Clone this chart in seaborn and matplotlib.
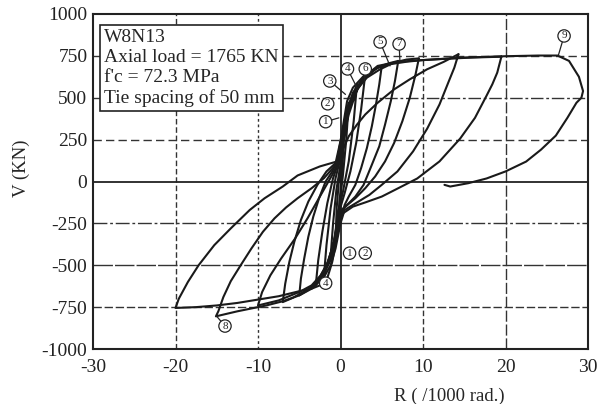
import matplotlib
matplotlib.use("Agg")
import matplotlib.pyplot as plt
import seaborn as sns
import pandas as pd

# Load history of specimen W8N13: drift ratio R (1/1000 rad) and shear V (kN),
# one list pair per cycle, each running from one positive peak to the next.
r_c0 = [0, 0.15, 0.3, 0.5]
v_c0 = [0, 150, 280, 370]

r_c1 = [0.5, 0.35, 0.1, -0.2, -0.6, -0.45, -0.2, 0.2, 0.6, 1.0]
v_c1 = [370, 180, 0, -170, -330, -150, 0, 200, 380, 470]

r_c2 = [1.0, 0.7, 0.3, -0.1, -0.6, -1.2, -0.9, -0.5, 0.0, 0.6, 1.2, 2.0]
v_c2 = [470, 250, 40, -130, -320, -450, -250, -50, 100, 320, 470, 580]

r_c3 = [2.0, 1.6, 1.0, 0.3, -0.2, -0.8, -1.5, -2.0, -1.7, -1.2, -0.6, -0.1, 0.4, 1.0, 1.8, 2.4, 3.0]
v_c3 = [580, 360, 120, -60, -170, -360, -480, -560, -380, -160, 20, 120, 270, 400, 520, 590, 640]

r_c4 = [3.0, 2.5, 1.9, 1.2, 0.5, -0.1, -0.8, -1.5, -2.2, -3.0, -2.7, -2.2, -1.6, -0.9, -0.2,
        0.5, 1.0, 1.8, 3.0, 4.0, 5.0]
v_c4 = [640, 430, 230, 60, -70, -170, -360, -480, -570, -620, -470, -300, -130, 20, 120,
        320, 430, 530, 620, 665, 690]

r_c5 = [5.0, 4.7, 4.3, 3.8, 3.2, 2.5, 1.8, 1.0, 0.5, -0.3, -0.7, -1.2, -2.0, -2.8, -4.0, -5.0,
        -4.8, -4.4, -3.9, -3.3, -2.6, -1.8, -1.0, -0.5, 0.3, 1.0, 1.8, 3.0, 4.5, 5.8, 7.0]
v_c5 = [690, 580, 460, 330, 200, 80, -20, -90, -140, -280, -380, -470, -550, -600, -650, -680,
        -580, -460, -330, -210, -100, 0, 60, 110, 300, 450, 540, 620, 680, 705, 720]

r_c6 = [7.0, 6.6, 6.1, 5.4, 4.7, 3.8, 2.8, 1.8, 1.0, -0.2, -0.6, -1.0, -1.7, -2.5, -3.5, -4.5,
        -5.8, -7.0, -6.7, -6.2, -5.6, -4.8, -3.9, -2.8, -1.7, -0.6, 0.4, 1.2, 2.0, 3.2, 4.8,
        6.5, 8.0, 9.5]
v_c6 = [720, 600, 480, 340, 210, 100, -20, -90, -130, -190, -320, -400, -500, -570, -630, -660,
        -695, -720, -610, -480, -360, -230, -120, -20, 60, 110, 330, 470, 550, 620, 670,
        710, 728, 735]

r_c7 = [9.5, 9.1, 8.4, 7.5, 6.5, 5.4, 4.2, 3.0, 1.8, 0.1, -0.4, -0.8, -1.5, -2.4, -3.5, -5.0,
        -7.5, -10.0, -9.5, -8.5, -7.2, -5.5, -4.0, -2.5, -1.0, -0.3, 0.2, 1.0, 2.0, 3.0, 4.5,
        6.5, 8.4, 10.5, 12.5, 14.3]
v_c7 = [735, 640, 500, 360, 230, 120, 30, -40, -100, -170, -300, -380, -480, -560, -620, -660,
        -710, -740, -660, -560, -460, -340, -220, -90, 40, 110, 180, 270, 340, 400, 470,
        550, 610, 670, 714, 760]

r_c8 = [14.3, 13.8, 13.1, 12.0, 10.5, 8.8, 6.9, 5.0, 3.5, 1.5, 0.5, 0.0, -0.6, -1.2, -2.0,
        -3.5, -5.0, -7.0, -9.0, -12.5, -15.1, -14.8, -14.2, -13.3, -12.1, -10.8, -9.4, -8.0,
        -6.6, -5.2, -3.5, -2.0, -0.4, 0.3, 0.8, 1.5, 2.5, 3.5, 4.5, 6.5, 8.4, 12.5, 16.0, 19.5]
v_c8 = [760, 680, 595, 460, 315, 180, 60, -20, -80, -140, -170, -250, -400, -500, -570,
        -640, -680, -715, -740, -775, -805, -774, -690, -595, -500, -400, -300, -220,
        -155, -100, -40, 20, 110, 300, 430, 530, 600, 650, 690, 710, 720, 732, 740, 745]

r_c9 = [19.5, 19.0, 18.4, 17.7, 16.3, 14.5, 12.0, 9.3, 7.0, 5.0, 3.0, 1.5, 0.0, -0.5, -1.0,
        -1.6, -2.5, -3.5, -5.0, -7.5, -10.0, -12.5, -15.0, -17.5, -20.0, -19.6, -18.5, -17.2,
        -15.3, -13.3, -11.0, -9.2, -7.0, -5.2, -2.5, -0.4, 0.3, 0.8, 1.5, 3.0, 4.5, 6.0, 8.0,
        10.0, 15.0, 20.0, 24.0, 26.3, 27.7, 28.9, 29.4, 29.2, 28.6, 27.5, 26.1, 24.3, 22.5,
        20.0, 17.7, 15.5, 13.3, 12.6]
v_c9 = [745, 650, 580, 512, 380, 256, 120, 18, -40, -90, -125, -150, -200, -350, -480,
        -577, -620, -640, -655, -685, -705, -725, -740, -750, -755, -700, -600, -500,
        -380, -280, -170, -100, -30, 36, 90, 120, 330, 480, 560, 640, 680, 700, 715,
        725, 740, 748, 752, 752, 720, 625, 540, 500, 470, 380, 274, 190, 119,
        60, 18, -10, -30, -20]

cycle_r = [r_c0, r_c1, r_c2, r_c3, r_c4, r_c5, r_c6, r_c7, r_c8, r_c9]
cycle_v = [v_c0, v_c1, v_c2, v_c3, v_c4, v_c5, v_c6, v_c7, v_c8, v_c9]

# Cycle number markers: (text, x, y, leader end x, leader end y or None)
marker_text = ["1", "2", "3", "4", "6", "5", "7", "9", "1", "2", "4", "8"]
marker_x = [-1.8, -1.55, -1.3, 0.85, 3.0, 4.8, 7.1, 27.1, 1.1, 3.0, -1.8, -14.0]
marker_y = [357, 464, 600, 672, 672, 833, 821, 869, -428, -428, -607, -863]
leader_x = [-0.2, None, 0.6, 2.0, 2.9, 6.0, 7.2, 26.4, None, None, None, -15.0]
leader_y = [380, None, 520, 560, 600, 690, 722, 752, None, None, None, -805]

legend_lines = ["W8N13", "Axial load = 1765 KN", "f'c = 72.3 MPa", "Tie spacing of 50 mm"]

x_ticks = [-30, -20, -10, 0, 10, 20, 30]
y_ticks = [-1000, -750, -500, -250, 0, 250, 500, 750, 1000]

sns.set_style("white")
plt.rcParams["font.family"] = ["Liberation Serif", "DejaVu Serif"]

frames = []
for i, (rr, vv) in enumerate(zip(cycle_r, cycle_v)):
    frames.append(pd.DataFrame({"R": rr, "V": vv, "cycle": i}))
df = pd.concat(frames, ignore_index=True)

fig = plt.figure(figsize=(6.03, 4.04), dpi=100)
ax = fig.add_axes([93 / 603, 55 / 404, 495 / 603, 335 / 404])

# reference grid with the mixed line styles of the printed chart
hstyles = {750: (0, (6, 3)), 500: (0, (9, 2, 2, 2)), 250: (0, (6, 3)),
           -250: (0, (10, 2, 2, 2)), -500: (0, (14, 1.5)), -750: (0, (6, 2))}
vstyles = {-20: (0, (4, 2)), -10: (0, (2, 2)), 10: (0, (4, 2)), 20: (0, (8, 2))}
for yv, ls in hstyles.items():
    ax.axhline(yv, color="#333333", lw=1.0, linestyle=ls, zorder=1)
for xv, ls in vstyles.items():
    ax.axvline(xv, color="#333333", lw=1.0, linestyle=ls, zorder=1)
ax.axhline(0, color="#222222", lw=1.3, zorder=1)
ax.axvline(0, color="#222222", lw=1.3, zorder=1)

sns.lineplot(data=df, x="R", y="V", units="cycle", estimator=None, sort=False,
             color="#1a1a1a", lw=1.5, legend=False, ax=ax, zorder=3)

for t, mx, my, lx, ly in zip(marker_text, marker_x, marker_y, leader_x, leader_y):
    if lx is not None:
        ax.plot([mx, lx], [my, ly], color="#222222", lw=0.9, zorder=4)
    ax.text(mx, my, t, fontsize=8, ha="center", va="center", zorder=5,
            bbox=dict(boxstyle="circle,pad=0.15", fc="white", ec="#222222", lw=0.9))

ax.text(0.022, 0.955, "\n".join(legend_lines), transform=ax.transAxes,
        fontsize=14, va="top", ha="left", linespacing=1.22, zorder=6,
        bbox=dict(boxstyle="square,pad=0.22", fc="white", ec="#222222", lw=1.2))

ax.set_xlim(-30, 30)
ax.set_ylim(-1000, 1000)
ax.set_xticks(x_ticks)
ax.set_yticks(y_ticks)
ax.set_xticklabels([str(v) for v in x_ticks])
ax.set_yticklabels([str(v) for v in y_ticks])
ax.tick_params(axis="both", labelsize=14, colors="#222222", direction="out", length=3)
ax.tick_params(axis="y", pad=1)
ax.tick_params(axis="x", pad=4)
for s in ax.spines.values():
    s.set_visible(True)
    s.set_color("#222222")
    s.set_linewidth(1.5)

ax.set_xlabel("R ( /1000 rad.)", fontsize=13.5)
ax.set_ylabel("V (KN)", fontsize=13.5)
ax.xaxis.set_label_coords(0.72, -0.115)
ax.yaxis.set_label_coords(-0.127, 0.54)

fig.savefig("out.png", dpi=100, facecolor="white")
